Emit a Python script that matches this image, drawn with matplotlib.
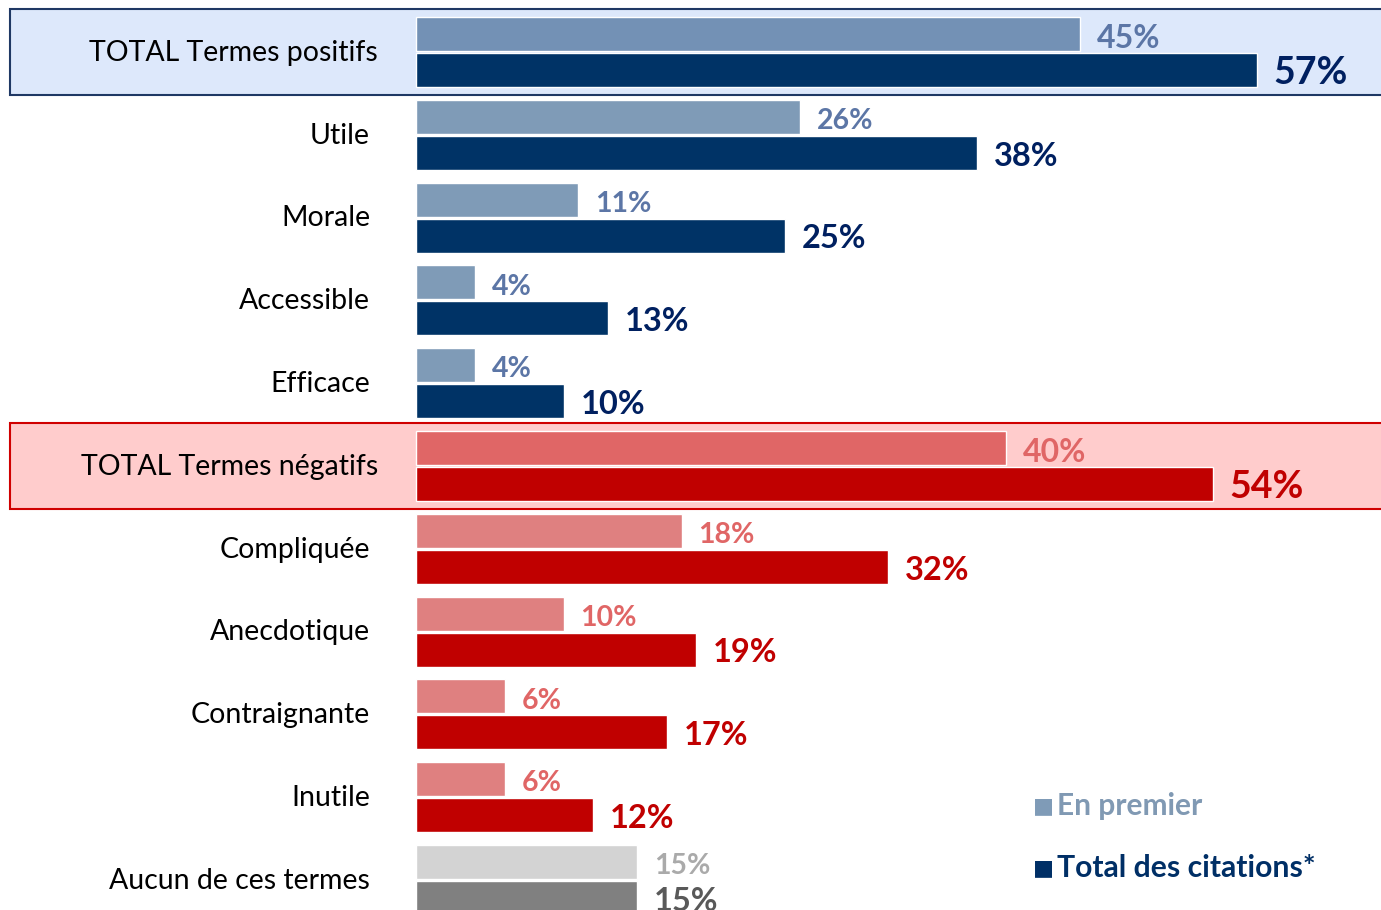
import matplotlib.pyplot as plt
from matplotlib.patches import Rectangle

# data
categories = ['TOTAL Termes positifs', 'Utile', 'Morale', 'Accessible', 'Efficace',
              'TOTAL Termes négatifs', 'Compliquée', 'Anecdotique', 'Contraignante',
              'Inutile', 'Aucun de ces termes']
en_premier = [45, 26, 11, 4, 4, 40, 18, 10, 6, 6, 15]
total_citations = [57, 38, 25, 13, 10, 54, 32, 19, 17, 12, 15]

light_cols = ['#7391B5'] + ['#7F9BB7'] * 4 + ['#E06666'] + ['#DF8080'] * 4 + ['#D3D3D3']
dark_cols = ['#003366'] * 5 + ['#C00000'] * 5 + ['#808080']
light_txt = ['#5C76A6'] * 5 + ['#E06666'] * 5 + ['#AAAAAA']
dark_txt = ['#002060'] * 5 + ['#C00000'] * 5 + ['#595959']

plt.rcParams['font.family'] = ['Lato', 'DejaVu Sans']

fig = plt.figure(figsize=(13.81, 9.10), dpi=100)
ax = fig.add_axes([0, 0, 1, 1])
px = 14.75  # pixels per percent
ax.set_xlim(-416 / px, (1381 - 416) / px)
ax.set_ylim((910 - 52) / 82.8, -52 / 82.8)
ax.axis('off')

# highlight boxes for totals
for row, fc, ec in [(0, '#DDE8FB', '#1F3864'), (5, '#FFCCCC', '#D00000')]:
    ax.add_patch(Rectangle((-406 / px, row - 0.52), 120, 1.04, facecolor=fc,
                           edgecolor=ec, linewidth=1.5, zorder=0))

h = 34 / 82.8
off = 18 / 82.8
for i, cat in enumerate(categories):
    ax.barh(i - off, en_premier[i], height=h, color=light_cols[i],
            edgecolor='white', linewidth=1, zorder=2)
    ax.barh(i + off, total_citations[i], height=h, color=dark_cols[i],
            edgecolor='white', linewidth=1, zorder=2)
    big = cat.startswith('TOTAL')
    ax.text(en_premier[i] + 17 / px, i - off + 0.05, f'{en_premier[i]}%',
            color=light_txt[i], fontsize=23 if big else 20.5, fontweight='bold',
            va='center', ha='left')
    ax.text(total_citations[i] + 17 / px, i + off + 0.04, f'{total_citations[i]}%',
            color=dark_txt[i], fontsize=27 if big else 23.5, fontweight='bold',
            va='center', ha='left')
    lx = -38 / px if big else -46 / px
    ax.text(lx, i + 0.01, cat, fontsize=20.5, color='black', va='center', ha='right')

# legend
lx0 = (1033 - 416) / px
ax.text(lx0, (806 - 52) / 82.8, '\u25A0', color='#7F9BB7', fontsize=16,
        va='center', ha='left', family=['DejaVu Sans'])
ax.text(lx0 + 24 / px, (806 - 52) / 82.8, 'En premier', color='#8099B3',
        fontsize=21.5, fontweight='bold', va='center', ha='left')
ax.text(lx0, (868 - 52) / 82.8, '\u25A0', color='#002F66', fontsize=16,
        va='center', ha='left', family=['DejaVu Sans'])
ax.text(lx0 + 24 / px, (868 - 52) / 82.8, 'Total des citations*', color='#002F66',
        fontsize=21.7, fontweight='bold', va='center', ha='left')

fig.savefig('out.png', dpi=100)
